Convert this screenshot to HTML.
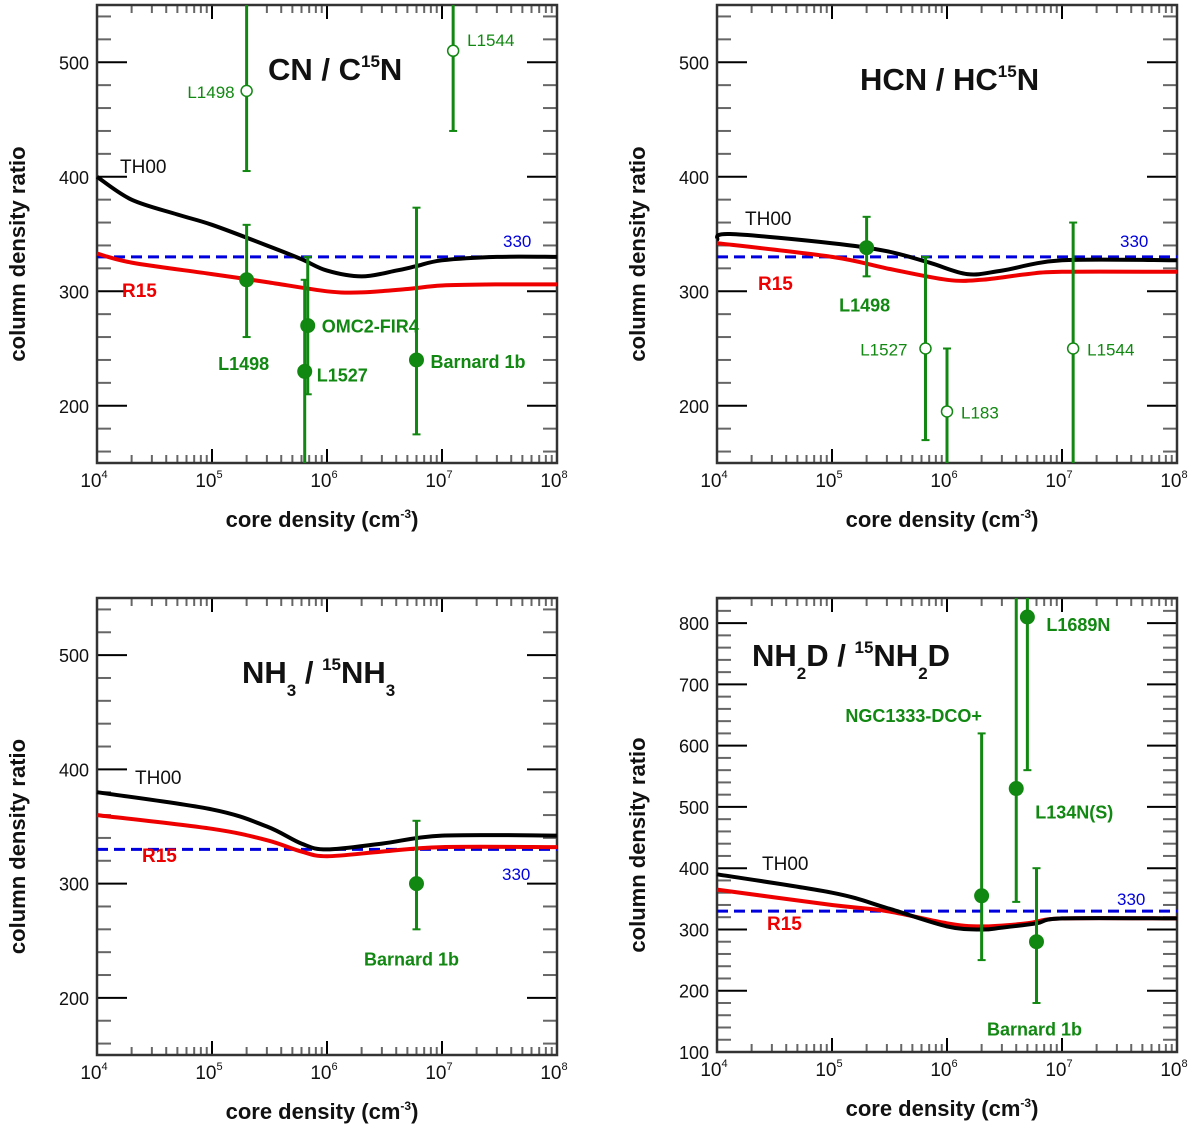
<!DOCTYPE html>
<html><head><meta charset="utf-8"><style>
html,body{margin:0;padding:0;background:#fff;}
svg{display:block;font-family:"Liberation Sans",Arial,sans-serif;}
</style></head><body>
<svg id="fig" width="1200" height="1134" viewBox="0 0 1200 1134"></svg>
<script>
// ---- data ----
const p1TH00x=[1e4,2e4,5e4,1e5,3e5,6e5,1e6,2e6,4e6,6e6,1e7,3e7,1e8];
const p1TH00y=[400,380,367,358,340,328,318,313,318,322,327,330,330];
const p1R15x=[1e4,2e4,1e5,3e5,1e6,2e6,5e6,1e7,3e7,1e8];
const p1R15y=[333,325,315,308,300,299,302,305,306,306];
const p1PtX=[2e5,1.25e7,2e5,6.8e5,6.4e5,6e6];
const p1PtY=[475,510,310,270,230,240];
const p1PtLo=[405,440,260,210,150,175];
const p1PtHi=[550,560,358,330,310,373];
const p1PtOpen=[1,1,0,0,0,0];
const p1PtLab=["L1498","L1544","L1498","OMC2-FIR4","L1527","Barnard 1b"];

const p2TH00x=[1e4,1.3e4,1e5,3e5,7e5,1.5e6,3e6,1e7,1e8];
const p2TH00y=[345,350,342,335,325,315,318,327,327];
const p2R15x=[1e4,1e5,3e5,1e6,2e6,5e6,1e7,1e8];
const p2R15y=[342,330,320,310,310,315,317,317];
const p2PtX=[2e5,6.5e5,1e6,1.25e7];
const p2PtY=[338,250,195,250];
const p2PtLo=[313,170,150,140];
const p2PtHi=[365,330,250,360];
const p2PtOpen=[0,1,1,1];
const p2PtLab=["L1498","L1527","L183","L1544"];

const p3TH00x=[1e4,1e5,3e5,6e5,1e6,3e6,1e7,1e8];
const p3TH00y=[380,365,350,335,330,335,342,342];
const p3R15x=[1e4,1e5,3e5,6e5,1e6,3e6,1e7,1e8];
const p3R15y=[360,348,338,328,324,328,332,332];
const p3PtX=[6e6];
const p3PtY=[300];
const p3PtLo=[260];
const p3PtHi=[355];
const p3PtOpen=[0];
const p3PtLab=["Barnard 1b"];

const p4TH00x=[1e4,1e5,3e5,1e6,2e6,3e6,6e6,1e7,1e8];
const p4TH00y=[390,360,335,305,300,303,310,318,318];
const p4R15x=[1e4,1e5,3e5,1e6,2e6,5e6,1e7,1e8];
const p4R15y=[365,340,330,310,305,310,318,318];
const p4PtX=[2e6,4e6,5e6,6e6];
const p4PtY=[355,530,810,280];
const p4PtLo=[250,345,560,180];
const p4PtHi=[620,850,850,400];
const p4PtOpen=[0,0,0,0];
const p4PtLab=["NGC1333-DCO+","L134N(S)","L1689N","Barnard 1b"];

const xTickLabels=["4","5","6","7","8"];
const refValue=330;

const NS="http://www.w3.org/2000/svg";
const svg=document.getElementById('fig');
function mk(tag,attrs,parent){const e=document.createElementNS(NS,tag);for(const k in attrs)e.setAttribute(k,attrs[k]);(parent||svg).appendChild(e);return e;}
const SUP=s=>'<tspan dy="-13" font-size="17">'+s+'</tspan><tspan dy="13">';
const SUB=s=>'<tspan dy="13" font-size="17">'+s+'</tspan><tspan dy="-13">';

const panels=[
 {x0:97,x1:557,y0:5,y1:463,ymin:150,ymax:550,ymaj:[200,300,400,500],
  th:[p1TH00x,p1TH00y],r:[p1R15x,p1R15y],pts:[p1PtX,p1PtY,p1PtLo,p1PtHi,p1PtOpen,p1PtLab],
  labOff:[[-12,7,'end',0],[14,-5,'start',0],[-3,90,'middle',1],[14,7,'start',1],[12,10,'start',1],[14,8,'start',1]],
  title:'CN / C'+SUP('15')+'N</tspan>',tx:268,ty:80,
  thLab:[120,173],rLab:[122,297],refLab:[503,247,'330'],name:'cn-panel'},
 {x0:717,x1:1177,y0:5,y1:463,ymin:150,ymax:550,ymaj:[200,300,400,500],
  th:[p2TH00x,p2TH00y],r:[p2R15x,p2R15y],pts:[p2PtX,p2PtY,p2PtLo,p2PtHi,p2PtOpen,p2PtLab],
  labOff:[[-2,64,'middle',1],[-18,7,'end',0],[14,7,'start',0],[14,7,'start',0]],
  title:'HCN / HC'+SUP('15')+'N</tspan>',tx:860,ty:90,
  thLab:[745,225],rLab:[758,290],refLab:[1120,247,'330'],name:'hcn-panel'},
 {x0:97,x1:557,y0:598,y1:1055,ymin:150,ymax:550,ymaj:[200,300,400,500],
  th:[p3TH00x,p3TH00y],r:[p3R15x,p3R15y],pts:[p3PtX,p3PtY,p3PtLo,p3PtHi,p3PtOpen,p3PtLab],
  labOff:[[-5,82,'middle',1]],
  title:'NH'+SUB('3')+' / '+SUP('15')+'NH'+SUB('3')+'</tspan></tspan></tspan>',tx:242,ty:683,
  thLab:[135,784],rLab:[142,862],refLab:[502,880,'330'],name:'nh3-panel'},
 {x0:717,x1:1177,y0:598,y1:1052,ymin:100,ymax:841,ymaj:[100,200,300,400,500,600,700,800],
  th:[p4TH00x,p4TH00y],r:[p4R15x,p4R15y],pts:[p4PtX,p4PtY,p4PtLo,p4PtHi,p4PtOpen,p4PtLab],
  labOff:[[-68,-174,'middle',1],[19,30,'start',1],[19,14,'start',1],[-2,94,'middle',1]],
  title:'NH'+SUB('2')+'D / '+SUP('15')+'NH'+SUB('2')+'D</tspan></tspan></tspan>',tx:752,ty:666,
  thLab:[762,870],rLab:[767,930],refLab:[1117,905,'330'],name:'nh2d-panel'}
];

function smoothPath(pts){
 let d='M'+pts[0][0].toFixed(1)+','+pts[0][1].toFixed(1);
 for(let i=0;i<pts.length-1;i++){
  const p0=pts[Math.max(i-1,0)],p1=pts[i],p2=pts[i+1],p3=pts[Math.min(i+2,pts.length-1)];
  const c1=[p1[0]+(p2[0]-p0[0])/6,p1[1]+(p2[1]-p0[1])/6];
  const c2=[p2[0]-(p3[0]-p1[0])/6,p2[1]-(p3[1]-p1[1])/6];
  d+='C'+c1[0].toFixed(1)+','+c1[1].toFixed(1)+' '+c2[0].toFixed(1)+','+c2[1].toFixed(1)+' '+p2[0].toFixed(1)+','+p2[1].toFixed(1);
 }
 return d;
}

panels.forEach((P,pi)=>{
 const g=mk('g',{});
 
 
 const X=v=>P.x0+(Math.log10(v)-4)/4*(P.x1-P.x0);
 const Y=v=>P.y1-(v-P.ymin)/(P.ymax-P.ymin)*(P.y1-P.y0);
 for(let d=4;d<8;d++)for(let m=1;m<10;m++){
  const v=m*Math.pow(10,d);const x=X(v);const L=m==1?14:8;
  if(m>1||d>4){mk('line',{x1:x,x2:x,y1:P.y1,y2:P.y1-L,stroke:m==1?'#000':'#666','stroke-width':2},g);
  mk('line',{x1:x,x2:x,y1:P.y0,y2:P.y0+L,stroke:m==1?'#000':'#666','stroke-width':2},g);}
 }
 for(let v=Math.ceil(P.ymin/20)*20;v<=P.ymax;v+=20){
  const y=Y(v);const maj=v%100==0;const L=maj?30:14;
  mk('line',{x1:P.x0,x2:P.x0+L,y1:y,y2:y,stroke:maj?'#000':'#666','stroke-width':2},g);
  mk('line',{x1:P.x1,x2:P.x1-L,y1:y,y2:y,stroke:maj?'#000':'#666','stroke-width':2},g);
 }
 mk('rect',{x:P.x0,y:P.y0,width:P.x1-P.x0,height:P.y1-P.y0,fill:'none',stroke:'#333','stroke-width':2.5},g);
 P.ymaj.forEach(v=>{const t=mk('text',{x:P.x0-8,y:Y(v)+7,'text-anchor':'end','font-size':18,fill:'#111'},g);t.textContent=v;
  
  });
 xTickLabels.forEach((s,i)=>{const x=X(Math.pow(10,+s));const t=mk('text',{x:x-3,y:P.y1+24,'text-anchor':'middle','font-size':19,fill:'#111'},g);
  t.innerHTML='10<tspan dy="-9" font-size="11">'+s+'</tspan>';
  
  });
 const xt=mk('text',{x:(P.x0+P.x1)/2-5,y:P.y1+64,'text-anchor':'middle','font-size':22,'font-weight':'bold',fill:'#111'},g);
 xt.innerHTML='core density (cm<tspan dy="-9" font-size="12">-3</tspan><tspan dy="9">)</tspan>';
 
 
 const cy=(P.y0+P.y1)/2+20;const yt=mk('text',{x:0,y:0,transform:`translate(${P.x0-72},${cy}) rotate(-90)`,'text-anchor':'middle','font-size':22,'font-weight':'bold',fill:'#111'},g);
 yt.textContent='column density ratio';
 
 
 const tt=mk('text',{x:P.tx,y:P.ty,'font-size':31,'font-weight':'bold',fill:'#111'},g);tt.innerHTML=P.title;
 
 
 const rl=mk('line',{x1:P.x0,x2:P.x1,y1:Y(refValue),y2:Y(refValue),stroke:'#0000dd','stroke-width':3,'stroke-dasharray':'11,6'},g);
 
 
 const rt=mk('text',{x:P.refLab[0],y:P.refLab[1],'font-size':17,fill:'#0000dd'},g);rt.textContent=P.refLab[2];
 function curve(xs,ys,col,name){
  const pts=xs.map((v,i)=>[X(v),Y(ys[i])]);
  const p=mk('path',{d:smoothPath(pts),fill:'none',stroke:col,'stroke-width':4,'stroke-linejoin':'round'},g);
  
  
 }
 curve(P.r[0],P.r[1],'#ee0000','r15-curve');
 curve(P.th[0],P.th[1],'#000','th00-curve');
 const a=mk('text',{x:P.thLab[0],y:P.thLab[1],'font-size':19,fill:'#111'},g);a.textContent='TH00';
 const b=mk('text',{x:P.rLab[0],y:P.rLab[1],'font-size':19,'font-weight':'bold',fill:'#ee0000'},g);b.textContent='R15';
 const [px,py,lo,hi,op,lab]=P.pts;
 px.forEach((v,i)=>{
  const x=X(v),y=Y(py[i]);
  const yl=Math.min(Y(lo[i]),P.y1),yh=Math.max(Y(hi[i]),P.y0);
  const eb=mk('line',{x1:x,x2:x,y1:yl,y2:yh,stroke:'#118811','stroke-width':3},g);
  
  
  if(lo[i]>P.ymin)mk('line',{x1:x-4,x2:x+4,y1:yl,y2:yl,stroke:'#118811','stroke-width':2},g);
  if(hi[i]<P.ymax)mk('line',{x1:x-4,x2:x+4,y1:yh,y2:yh,stroke:'#118811','stroke-width':2},g);
  const c=mk('circle',{cx:x,cy:y,r:op[i]?5.5:7,fill:op[i]?'#fff':'#118811',stroke:'#118811','stroke-width':op[i]?1.5:1},g);
  
  
  const o=P.labOff[i];
  const t=mk('text',{x:x+o[0],y:y+o[1],'text-anchor':o[2],'font-size':o[3]?18:17,'font-weight':o[3]?'bold':'normal',fill:'#118811'},g);
  t.textContent=lab[i];
  
  
 });
});
</script>
</body></html>
